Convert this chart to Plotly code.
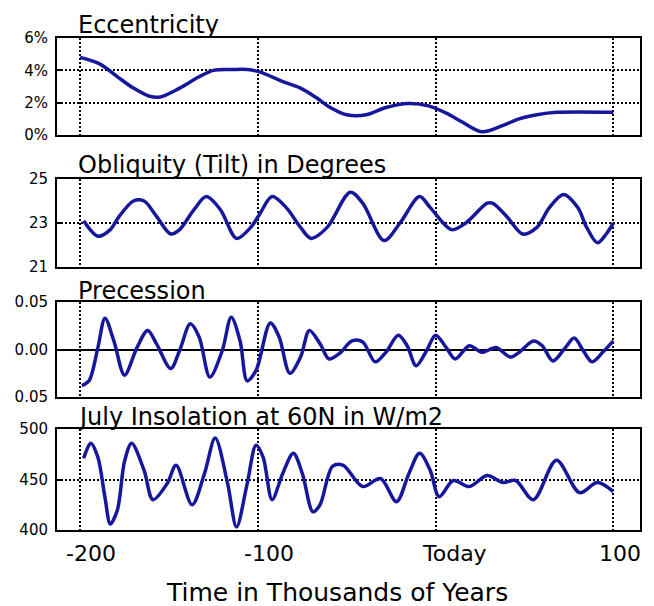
import plotly.graph_objects as go

# ---------------- data ----------------
ecc_t = [-200, -189, -179, -170, -161, -155, -144, -133, -125, -114, -106, -99, -86, -76, -67, -60,
         -50, -39, -28, -15, -4, 6, 15, 26, 38, 47, 57, 68, 100]
ecc_v = [4.8, 4.4, 3.6, 2.9, 2.4, 2.35, 2.9, 3.6, 4.0, 4.05, 4.05, 3.9, 3.3, 2.9, 2.3, 1.75,
         1.25, 1.25, 1.7, 1.95, 1.8, 1.35, 0.8, 0.2, 0.6, 1.0, 1.25, 1.4, 1.4]

obl_t = [-198, -190, -183, -178, -170, -164, -157, -149, -144, -136, -129, -121, -112, -104, -99, -92,
         -84, -76, -70, -61, -48, -41, -29, -20, -9, -3, 9, 17, 29, 32, 40, 49, 57, 64, 72, 80, 85,
         91, 96, 100]
obl_v = [23.1, 22.4, 22.7, 23.3, 24.0, 24.0, 23.3, 22.5, 22.7, 23.6, 24.2, 23.6, 22.3, 22.8, 23.4, 24.2,
         23.7, 22.8, 22.3, 22.8, 24.4, 23.9, 22.2, 23.0, 24.2, 23.7, 22.7, 23.0, 23.9, 23.9, 23.3, 22.5,
         22.8, 23.7, 24.3, 23.7, 22.8, 22.1, 22.5, 23.0]

pre_t = [-199, -195, -190, -186, -181, -175, -168, -162, -157, -149, -144, -138, -133, -127, -120, -115,
         -110, -106, -101, -93, -88, -82, -76, -71, -65, -60, -54, -47, -41, -34, -28, -21, -16, -11,
         -5, 0, 6, 11, 19, 26, 34, 42, 47, 55, 60, 66, 73, 78, 83, 88, 94, 100]
pre_v = [-0.038, -0.033, 0.002, 0.033, 0.009, -0.027, 0.002, 0.020, 0.006, -0.020, -0.001, 0.027, 0.013,
         -0.029, -0.001, 0.034, 0.009, -0.033, -0.022, 0.028, 0.013, -0.025, -0.008, 0.020, 0.006,
         -0.010, -0.004, 0.009, 0.008, -0.013, -0.003, 0.015, 0.004, -0.017, -0.001, 0.015, 0.002,
         -0.010, 0.004, -0.003, 0.002, -0.008, -0.003, 0.009, 0.004, -0.012, 0.002, 0.012, -0.001,
         -0.013, -0.003, 0.009]

ins_t = [-198, -194, -190, -186, -183, -179, -175, -171, -164, -159, -151, -146, -137, -130, -124, -117,
         -112, -106, -101, -97, -92, -86, -80, -75, -69, -65, -58, -52, -41, -31, -22, -15, -9, -3, 2,
         10, 19, 29, 38, 45, 55, 68, 81, 91, 100]
ins_v = [471, 486, 472, 432, 406, 420, 468, 486, 459, 430, 446, 464, 425, 456, 491, 446,
         403, 446, 484, 472, 430, 456, 476, 456, 418, 425, 463, 464, 443, 451, 428, 456, 476, 459, 433,
         449, 443, 454, 447, 449, 430, 469, 437, 447, 438]

x_ticks = [-200, -100, 0, 100]
x_ticktext = ["-200", "-100", "Today", "100"]

titles = ["Eccentricity", "Obliquity (Tilt) in Degrees", "Precession", "July Insolation at 60N in W/m2"]
y_ticks = [[0, 2, 4, 6], [21, 23, 25], [-0.05, 0, 0.05], [400, 450, 500]]
y_ticktext = [["0%", "2%", "4%", "6%"], ["21", "23", "25"], ["0.05", "0.00", "0.05"], ["400", "450", "500"]]
y_ranges = [[0, 6], [21, 25], [-0.05, 0.05], [400, 500]]
x_axis_label = "Time in Thousands of Years"

# ---------------- figure ----------------
OFF = 8                      # page body margin of the html page
W, H = 654 - OFF, 606 - OFF
LINE = "#17179c"
FONT = "DejaVu Sans"
GRID_DASH = "2px,2px"

# target pixel positions in the 654x606 window, converted to figure pixels
boxes = [(38, 135), (179, 267), (302, 397), (429, 530)]   # panel top/bottom
title_y = [25, 165, 291, 417]                              # title centres
xl, xr = 57, 640


def px_x(p):
    return (p - OFF) / W


def px_y(p):
    return 1 - (p - OFF) / H


fig = go.Figure()
series = [(ecc_t, ecc_v), (obl_t, obl_v), (pre_t, pre_v), (ins_t, ins_v)]
for i, (t, v) in enumerate(series):
    sfx = "" if i == 0 else str(i + 1)
    fig.add_trace(go.Scatter(x=t, y=v, mode="lines", xaxis="x" + sfx, yaxis="y" + sfx,
                             line=dict(color=LINE, width=3.5, shape="spline", smoothing=0.9),
                             showlegend=False, hoverinfo="skip"))

layout = dict(width=W, height=H, margin=dict(l=0, r=0, t=0, b=0, pad=0),
              paper_bgcolor="white", plot_bgcolor="white", showlegend=False)
annotations = []
for i in range(4):
    sfx = "" if i == 0 else str(i + 1)
    top, bot = boxes[i]
    xa = dict(domain=[px_x(xl), px_x(xr)], range=[-213, 115], anchor="y" + sfx,
              tickmode="array", tickvals=x_ticks, ticktext=x_ticktext,
              showticklabels=False, ticks="", automargin=False,
              showgrid=True, gridcolor="black", gridwidth=1.5, griddash=GRID_DASH,
              showline=True, linecolor="black", linewidth=2, mirror=True, zeroline=False,
              fixedrange=True)
    ya = dict(domain=[px_y(bot), px_y(top)], range=y_ranges[i], anchor="x" + sfx,
              tickmode="array", tickvals=y_ticks[i], ticktext=y_ticktext[i],
              ticks="inside", ticklen=5, tickcolor="black", tickwidth=2, automargin=False,
              ticklabelstandoff=4,
              showline=True, linecolor="black", linewidth=2, mirror=True,
              tickfont=dict(family=FONT, size=15, color="black"), fixedrange=True)
    if i == 2:
        ya.update(showgrid=False, zeroline=True, zerolinecolor="black", zerolinewidth=2)
    else:
        ya.update(showgrid=True, gridcolor="black", gridwidth=1.5, griddash=GRID_DASH, zeroline=False)
    layout["xaxis" + sfx] = xa
    layout["yaxis" + sfx] = ya
    annotations.append(dict(text=titles[i], xref="paper", yref="paper", x=px_x(76),
                            y=px_y(title_y[i]), xanchor="left", yanchor="middle",
                            showarrow=False, font=dict(family=FONT, size=24, color="black")))

# bottom tick labels (left-aligned just before each gridline, as in the original)
for tv, tt in zip(x_ticks, x_ticktext):
    annotations.append(dict(text=tt, xref="x4", yref="paper", x=tv, xshift=-16,
                            y=px_y(553), xanchor="left", yanchor="middle", showarrow=False,
                            font=dict(family=FONT, size=22, color="black")))
annotations.append(dict(text=x_axis_label, xref="paper", yref="paper", x=px_x(337),
                        y=px_y(592), xanchor="center", yanchor="middle", showarrow=False,
                        font=dict(family=FONT, size=25, color="black")))
layout["annotations"] = annotations
fig.update_layout(**layout)
fig.write_html("out.html")
